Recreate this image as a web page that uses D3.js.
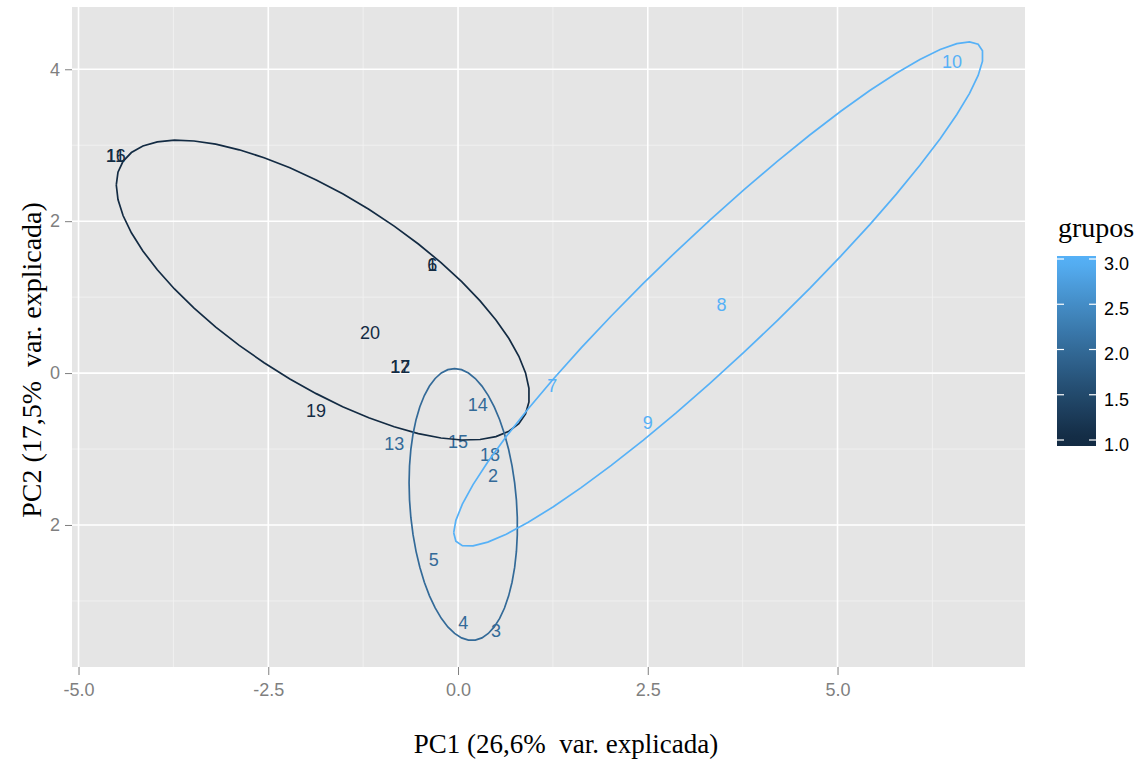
<!DOCTYPE html>
<html>
<head>
<meta charset="utf-8">
<script src="https://cdn.jsdelivr.net/npm/d3@7"></script>
<style>
  body { margin: 0; background: #fff; }
  svg { display: block; }
</style>
</head>
<body>
<svg id="chart" width="1142" height="762"></svg>
<script>
// ---- data ----
const labels = ["1","2","3","4","5","6","7","8","9","10","11","12","13","14","15","16","17","18","19","20"];
const groups = [1, 2, 2, 2, 2, 1, 3, 3, 3, 3, 1, 1, 2, 2, 2, 1, 1, 2, 1, 1];
const pc1 = [-0.34, 0.46, 0.50, 0.07, -0.32, -0.34, 1.24, 3.47, 2.50, 6.51, -4.51, -0.76, -0.84, 0.26, 0.00, -4.51, -0.76, 0.42, -1.87, -1.16];
const pc2 = [1.42, -1.36, -3.39, -3.29, -2.46, 1.42, -0.17, 0.89, -0.66, 4.10, 2.855, 0.08, -0.93, -0.42, -0.91, 2.855, 0.08, -1.08, -0.50, 0.526];
const xTicks = [-5, -2.5, 0, 2.5, 5];
const xTickLabels = ["-5.0", "-2.5", "0.0", "2.5", "5.0"];
const yTicks = [-2, 0, 2, 4];
const yTickLabels = ["2", "0", "2", "4"];
const legendTicks = [1.0, 1.5, 2.0, 2.5, 3.0];
const legendTickLabels = ["1.0", "1.5", "2.0", "2.5", "3.0"];
const xTitle = "PC1 (26,6%  var. explicada)";
const yTitle = "PC2 (17,5%  var. explicada)";
const legendTitle = "grupos";
const ellipseProb = 0.70;

// ---- layout ----
const svg = d3.select("#chart");
const panel = { left: 72, top: 7, right: 1025, bottom: 667 };
const x = d3.scaleLinear().domain([-5.086, 7.47]).range([panel.left, panel.right]);
const y = d3.scaleLinear().domain([-3.87, 4.82]).range([panel.bottom, panel.top]);
const color = d3.scaleLinear().domain([1, 3]).range(["#132B43", "#56B1F7"]).interpolate(d3.interpolateLab);
const sans = "Liberation Sans, Arial, sans-serif";
const serif = "Liberation Serif, Times New Roman, serif";

// panel background
svg.append("rect")
  .attr("x", panel.left).attr("y", panel.top)
  .attr("width", panel.right - panel.left).attr("height", panel.bottom - panel.top)
  .attr("fill", "#E5E5E5");

// minor grid
const xMinor = [-3.75, -1.25, 1.25, 3.75, 6.25];
const yMinor = [-3, -1, 1, 3];
const grid = svg.append("g");
xMinor.forEach(v => grid.append("line")
  .attr("x1", x(v)).attr("x2", x(v)).attr("y1", panel.top).attr("y2", panel.bottom)
  .attr("stroke", "#F2F2F2").attr("stroke-width", 0.8));
yMinor.forEach(v => grid.append("line")
  .attr("y1", y(v)).attr("y2", y(v)).attr("x1", panel.left).attr("x2", panel.right)
  .attr("stroke", "#F2F2F2").attr("stroke-width", 0.8));
// major grid
xTicks.forEach(v => grid.append("line")
  .attr("x1", x(v)).attr("x2", x(v)).attr("y1", panel.top).attr("y2", panel.bottom)
  .attr("stroke", "#FFFFFF").attr("stroke-width", 1.6));
yTicks.forEach(v => grid.append("line")
  .attr("y1", y(v)).attr("y2", y(v)).attr("x1", panel.left).attr("x2", panel.right)
  .attr("stroke", "#FFFFFF").attr("stroke-width", 1.6));

// axes
const xAxis = d3.axisBottom(x).tickValues(xTicks).tickFormat((d, i) => xTickLabels[i]).tickSize(8).tickPadding(8);
const gx = svg.append("g").attr("transform", `translate(0,${panel.bottom})`).call(xAxis);
gx.select(".domain").remove();
gx.selectAll("line").attr("stroke", "#7F7F7F").attr("stroke-width", 1);
gx.selectAll("text").attr("fill", "#7F7F7F").style("font-family", sans).style("font-size", "18px");

const yAxis = d3.axisLeft(y).tickValues(yTicks).tickFormat((d, i) => yTickLabels[i]).tickSize(7).tickPadding(5);
const gy = svg.append("g").attr("transform", `translate(${panel.left},0)`).call(yAxis);
gy.select(".domain").remove();
gy.selectAll("line").attr("stroke", "#7F7F7F").attr("stroke-width", 1);
gy.selectAll("text").attr("fill", "#7F7F7F").style("font-family", sans).style("font-size", "18px");

// data rows
const rows = labels.map((l, i) => ({ label: l, g: groups[i], x: pc1[i], y: pc2[i] }));

// labels
svg.append("g").selectAll("text").data(rows).join("text")
  .attr("x", d => x(d.x)).attr("y", d => y(d.y))
  .attr("text-anchor", "middle").attr("dominant-baseline", "central")
  .attr("fill", d => color(d.g))
  .style("font-family", sans).style("font-size", "18px")
  .text(d => d.label);

// ellipses (ggbiplot-style normal ellipses)
const ed = Math.sqrt(-2 * Math.log(1 - ellipseProb));
const groupIds = Array.from(new Set(groups)).sort();
const thetas = d3.range(50).map(k => -Math.PI + k * (2 * Math.PI / 49));
groupIds.forEach(gid => {
  const pts = rows.filter(r => r.g === gid);
  const n = pts.length;
  const mx = d3.mean(pts, p => p.x), my = d3.mean(pts, p => p.y);
  let sxx = 0, syy = 0, sxy = 0;
  pts.forEach(p => { sxx += (p.x - mx) ** 2; syy += (p.y - my) ** 2; sxy += (p.x - mx) * (p.y - my); });
  sxx /= (n - 1); syy /= (n - 1); sxy /= (n - 1);
  const a = Math.sqrt(sxx), b = sxy / a, c = Math.sqrt(Math.max(syy - b * b, 0));
  const poly = thetas.map(t => {
    const ct = Math.cos(t), st = Math.sin(t);
    return [mx + ed * (ct * a), my + ed * (ct * b + st * c)];
  });
  svg.append("path")
    .attr("d", d3.line().x(p => x(p[0])).y(p => y(p[1]))(poly))
    .attr("fill", "none").attr("stroke", color(gid)).attr("stroke-width", 1.7);
});

// axis titles
svg.append("text")
  .attr("x", 566).attr("y", 753)
  .attr("text-anchor", "middle")
  .style("font-family", serif).style("font-size", "27px")
  .style("white-space", "pre").attr("fill", "#000")
  .text(xTitle);
svg.append("text")
  .attr("transform", `translate(41,360) rotate(-90)`)
  .attr("text-anchor", "middle")
  .style("font-family", serif).style("font-size", "28px")
  .style("white-space", "pre").attr("fill", "#000")
  .text(yTitle);

// legend
const lg = { x: 1057, w: 39, top: 256, bottom: 446 };
const ly = d3.scaleLinear().domain([1, 3]).range([440, 259]);
const defs = svg.append("defs");
const grad = defs.append("linearGradient").attr("id", "lgrad")
  .attr("x1", 0).attr("y1", 1).attr("x2", 0).attr("y2", 0);
d3.range(0, 1.0001, 0.05).forEach(t => {
  const v = ly.invert(lg.bottom + t * (lg.top - lg.bottom));
  grad.append("stop").attr("offset", t).attr("stop-color", color(Math.max(1, Math.min(3, v))));
});
svg.append("rect").attr("x", lg.x).attr("y", lg.top).attr("width", lg.w).attr("height", lg.bottom - lg.top)
  .attr("fill", "url(#lgrad)");
legendTicks.forEach((v, i) => {
  svg.append("line").attr("x1", lg.x).attr("x2", lg.x + 7).attr("y1", ly(v)).attr("y2", ly(v))
    .attr("stroke", "#fff").attr("stroke-width", 1.2);
  svg.append("line").attr("x1", lg.x + lg.w - 7).attr("x2", lg.x + lg.w).attr("y1", ly(v)).attr("y2", ly(v))
    .attr("stroke", "#fff").attr("stroke-width", 1.2);
  svg.append("text").attr("x", lg.x + lg.w + 8).attr("y", ly(v) + 6)
    .attr("dominant-baseline", "middle")
    .style("font-family", sans).style("font-size", "18px")
    .attr("fill", "#000")
    .text(legendTickLabels[i]);
});
svg.append("text").attr("x", 1058).attr("y", 237)
  .style("font-family", serif).style("font-size", "28px")
  .attr("fill", "#000").text(legendTitle);
</script>
</body>
</html>
